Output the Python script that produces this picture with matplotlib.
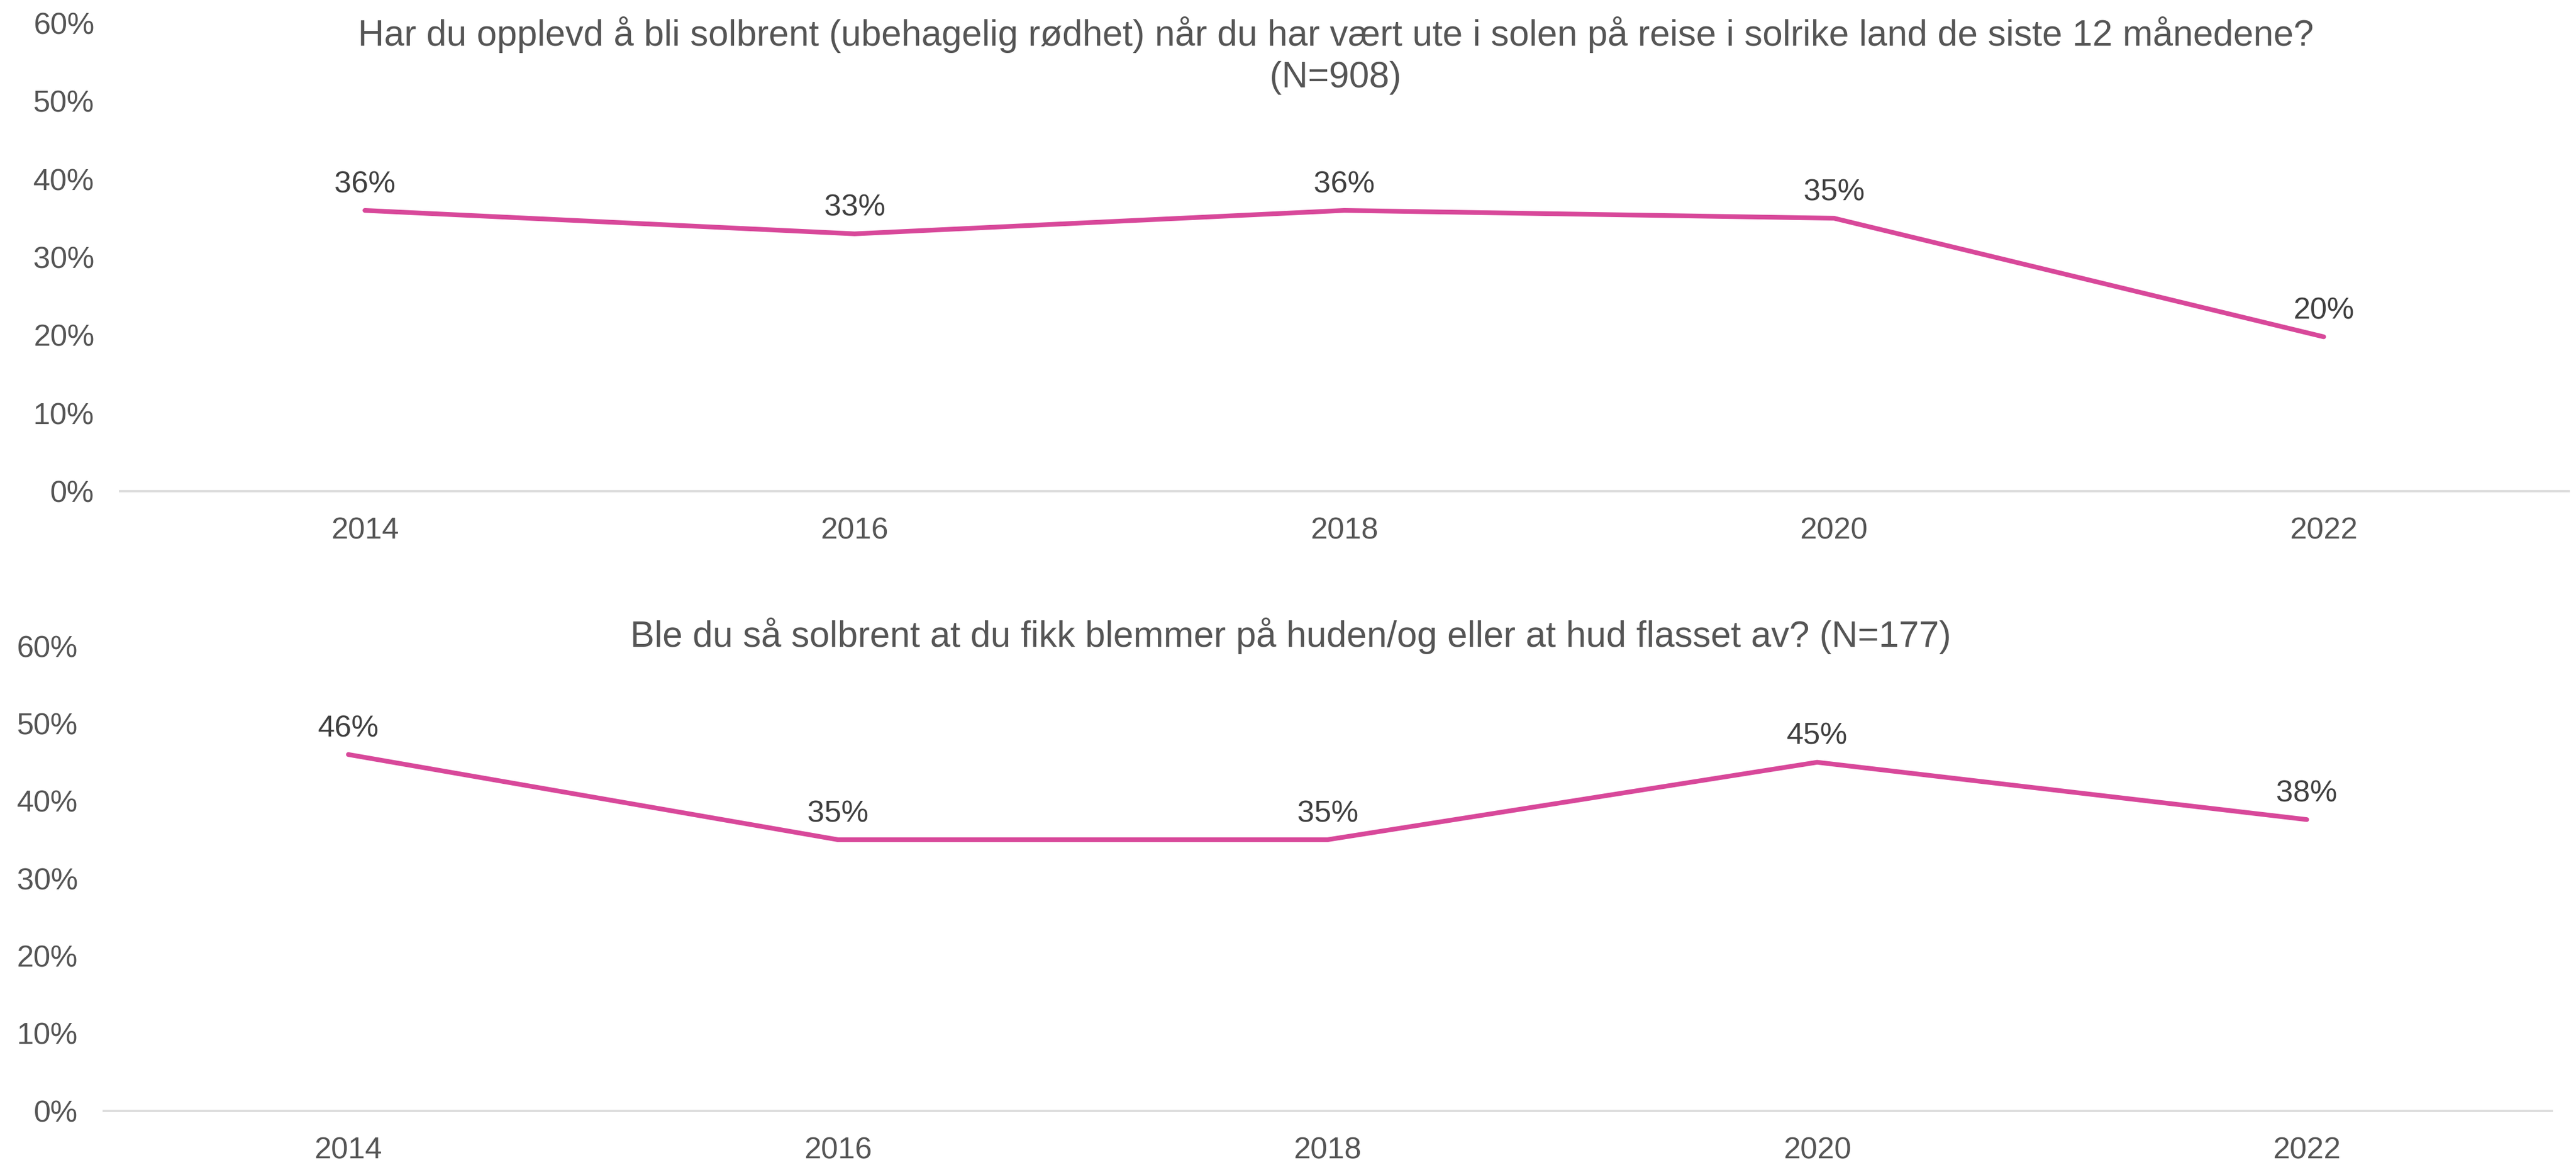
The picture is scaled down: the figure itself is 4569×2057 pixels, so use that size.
import matplotlib

matplotlib.use('Agg')
import matplotlib.pyplot as plt
from matplotlib.ticker import FuncFormatter

plt.rcParams['font.family'] = ['Liberation Sans', 'DejaVu Sans']

# data (percent)
years = ['2014', '2016', '2018', '2020', '2022']
sunburn_travel = [36.0, 33.0, 36.0, 35.0, 19.8]
blisters = [46.0, 35.0, 35.0, 45.0, 37.6]

title_top = ('Har du opplevd å bli solbrent (ubehagelig rødhet) når du har vært ute i solen '
             'på reise i solrike land de siste 12 månedene?\n(N=908)')
title_bottom = 'Ble du så solbrent at du fikk blemmer på huden/og eller at hud flasset av? (N=177)'

LINE = '#D8489A'
TICK = '#555555'
LABEL = '#404040'


def draw(ax, values):
  xs = list(range(len(years)))
  ax.plot(xs, values, color=LINE, lw=2.0, solid_capstyle='round', solid_joinstyle='round')
  for x, v in zip(xs, values):
    ax.annotate(f'{v:.0f}%', (x, v), textcoords='offset points', xytext=(0, 5),
                ha='center', va='bottom', fontsize=13, color=LABEL)
  ax.set_xlim(-0.5, 4.5)
  ax.set_ylim(0, 60)
  ax.set_yticks(range(0, 61, 10))
  ax.yaxis.set_major_formatter(FuncFormatter(lambda v, _: f'{v:.0f}%'))
  ax.set_xticks(xs)
  ax.set_xticklabels(years)
  ax.tick_params(length=0, labelsize=13, labelcolor=TICK)
  ax.tick_params(axis='y', pad=11)
  ax.tick_params(axis='x', pad=11)
  for s in ('top', 'right', 'left'):
    ax.spines[s].set_visible(False)
  ax.spines['bottom'].set_color('#DDDDDD')
  ax.spines['bottom'].set_linewidth(1.0)


fig = plt.figure(figsize=(4569 / 300, 2057 / 300), dpi=300)
ax1 = fig.add_axes([0.0466, 0.5765, 0.9505, 0.4035])
ax2 = fig.add_axes([0.0402, 0.0425, 0.9503, 0.4005])
draw(ax1, sunburn_travel)
draw(ax2, blisters)

fig.text(0.5185, 0.986, title_top, ha='center', va='top', fontsize=15.4,
         color=TICK, linespacing=1.3)
fig.text(0.501, 0.452, title_bottom, ha='center', va='center', fontsize=15.4, color=TICK)

fig.savefig('out.png', dpi=300, facecolor='white')
